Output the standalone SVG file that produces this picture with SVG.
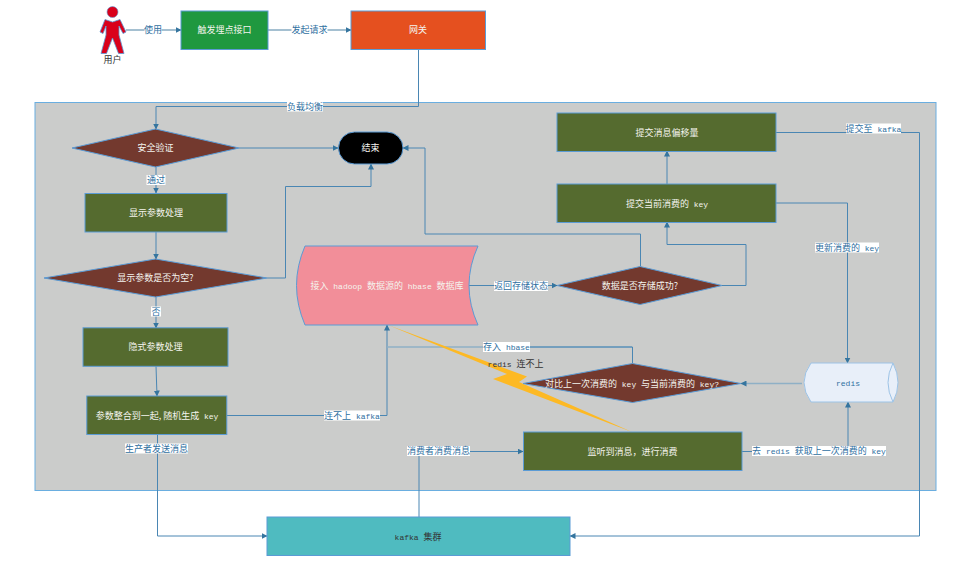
<svg xmlns="http://www.w3.org/2000/svg" width="964" height="568" viewBox="0 0 964 568">
<style>
text{font-family:"Noto Sans CJK SC","Liberation Sans",sans-serif;font-size:9px;text-anchor:middle}
.m{font-family:"Liberation Mono","Noto Sans CJK SC",monospace;font-size:8px}
.w{fill:#f4f4ee}
.d{fill:#333333}
.l{fill:#2f6f9f}
.e{fill:none;stroke:#4a86b3;stroke-width:1;marker-end:url(#a)}
.n{fill:none;stroke:#4a86b3;stroke-width:1}
.g{fill:none;stroke:#8fb0c6;stroke-width:1.6}
.bg{fill:#ffffff}
.s{stroke:#5b9bd5;stroke-width:1;stroke-miterlimit:8}
.olive{fill:#556b2f}
.brown{fill:#73392e}
</style>
<defs>
<marker id="a" markerUnits="userSpaceOnUse" markerWidth="6" markerHeight="6" refX="5.5" refY="3" orient="auto"><path d="M0,0L6,3L0,6Z" fill="#35759f"/></marker>
</defs>
<rect width="964" height="568" fill="#ffffff"/>
<g id="container"><rect x="35" y="102.500" width="901" height="388" fill="#cbcccb" stroke="#6aaee0" stroke-width="1"/></g>
<g id="connectors">
<path class="g" d="M126,30H146"/><path class="g" d="M161,30H181" style="marker-end:url(#a)"/>
<path class="g" d="M268,30H292"/><path class="g" d="M327,30H351" style="marker-end:url(#a)"/>
<path class="e" d="M418.500,49V106.500H156V129"/>
<path class="e" d="M239,148H338"/>
<path class="e" d="M156,167V193"/>
<path class="e" d="M156,232V259"/>
<path class="e" d="M267,278H285.500V186.500H371V164"/>
<path class="e" d="M156,297V328"/>
<path class="e" d="M156,366L157,396"/>
<path class="e" d="M227,415.500H387V325"/>
<path class="e" d="M157.500,434V536H267"/>
<path class="e" d="M419,517V451.500H523"/>
<path class="e" d="M742,451.500H848V402"/>
<path class="e" d="M802,383.500H741" style="stroke:#8fb0c6;stroke-width:1.600"/>
<path class="g" d="M387,347H632"/>
<path class="n" d="M632.500,363V347H500"/>
<path class="e" d="M468,285.500H557"/>
<path class="e" d="M640.500,266V234H425V148H403"/>
<path class="e" d="M722,285.500H746V244.500H667V222"/>
<path class="e" d="M667,184V151"/>
<path class="e" d="M776,203H847.500V363"/>
<path class="e" d="M776,132.500H919.500V536H570"/>
</g>
<g id="lightning"><path d="M388,325L527,376.500L519,382L632,432L493,379L507,374Z" fill="#fdb924"/></g>
<g id="connector-labels">
<rect class="bg" x="144.500" y="25" width="17" height="10"/><text class="l" x="153" y="33.200">使用</text>
<rect class="bg" x="291.500" y="25" width="36" height="10"/><text class="l" x="309.500" y="33.200">发起请求</text>
<rect class="bg" x="287" y="101.500" width="36" height="10"/><text class="l" x="305" y="109.700">负载均衡</text>
<rect class="bg" x="146.500" y="175" width="19" height="10"/><text class="l" x="156" y="183.200">通过</text>
<rect class="bg" x="151" y="306.500" width="10" height="10"/><text class="l" x="156" y="314.900">否</text>
<rect class="bg" x="324" y="410.500" width="56" height="10"/><text class="l" x="352" y="418.700">连不上<tspan class="m"> kafka</tspan></text>
<rect class="bg" x="125" y="443.500" width="63" height="10"/><text class="l" x="156.500" y="451.800">生产者发送消息</text>
<rect class="bg" x="407" y="446" width="63" height="10"/><text class="l" x="438.500" y="454.200">消费者消费消息</text>
<rect class="bg" x="752" y="446" width="134" height="10"/><text class="l" x="819" y="454.200">去<tspan class="m"> redis </tspan>获取上一次消费的<tspan class="m"> key</tspan></text>
<rect class="bg" x="483" y="342" width="47" height="10"/><text class="l" x="506.500" y="350.200">存入<tspan class="m"> hbase</tspan></text>
<rect class="bg" x="494" y="281" width="54" height="10"/><text class="l" x="521" y="289.200">返回存储状态</text>
<rect class="bg" x="815" y="242.500" width="64" height="10"/><text class="l" x="847" y="250.800">更新消费的<tspan class="m"> key</tspan></text>
<rect class="bg" x="846" y="123.500" width="55" height="10"/><text class="l" x="873.500" y="131.800">提交至<tspan class="m"> kafka</tspan></text>
</g>
<g id="user">
<circle cx="112.500" cy="12" r="5.500" fill="#d9001b" stroke="#5b9bd5" stroke-width="0.600"/>
<path d="M105,19.500L112.500,22L120,19.500L126,32L123,33.500L119,26V35L124,53.500H118.500L112.500,38L106.500,53.500H101L106,35V26L103,33.500L100,32Z" fill="#d9001b" stroke="#5b9bd5" stroke-width="0.800"/>
<text class="d" x="112.500" y="63">用户</text>
</g>
<g id="trigger"><rect class="s" x="181" y="11" width="87" height="38.500" fill="#1f983f"/><text class="w" x="224.500" y="33.200">触发埋点接口</text></g>
<g id="gateway"><rect class="s" x="351" y="11" width="134.500" height="38.500" fill="#e5501f"/><text class="w" x="418" y="33.200">网关</text></g>
<g id="auth"><path class="s brown" d="M72,148L155.500,129L239,148L155.500,167Z"/><text class="w" x="155.500" y="151.200">安全验证</text></g>
<g id="end"><rect class="s" x="338.500" y="132" width="64.500" height="32" rx="16" fill="#000000"/><text class="w" x="370.500" y="151.200">结束</text></g>
<g id="explicit"><rect class="s olive" x="85" y="193.500" width="142" height="38.500"/><text class="w" x="156" y="216">显示参数处理</text></g>
<g id="empty-check"><path class="s brown" d="M44,278L155.500,259L267,278L155.500,297Z"/><text class="w" x="155.500" y="281.200">显示参数是否为空?</text></g>
<g id="implicit"><rect class="s olive" x="83" y="327.800" width="145" height="38.500"/><text class="w" x="155.500" y="350">隐式参数处理</text></g>
<g id="merge"><rect class="s olive" x="86.800" y="396" width="140" height="38.500"/><text class="w" x="157" y="418.700">参数整合到一起, 随机生成<tspan class="m"> key</tspan></text></g>
<g id="hbase"><path class="s" d="M305,246H478Q460,285.500 478,325H305Q288,285.500 305,246Z" fill="#f28e99"/><text class="w" x="387" y="288.700">接入<tspan class="m"> hadoop </tspan>数据源的<tspan class="m"> hbase </tspan>数据库</text></g>
<g id="store-check"><path class="s brown" d="M557,285.500L640,266.500L722,285.500L640,304.500Z"/><text class="w" x="640" y="288.700">数据是否存储成功?</text></g>
<g id="offset"><rect class="s olive" x="557" y="113" width="219" height="38.500"/><text class="w" x="667" y="135.500">提交消息偏移量</text></g>
<g id="commit-key"><rect class="s olive" x="557" y="184" width="219" height="38.500"/><text class="w" x="667" y="206.500">提交当前消费的<tspan class="m"> key</tspan></text></g>
<g id="compare"><path class="s brown" d="M523,383.500L632.500,363.500L741,383.500L632.500,402.500Z"/><text class="w" x="632" y="386.500">对比上一次消费的<tspan class="m"> key </tspan>与当前消费的<tspan class="m"> key?</tspan></text></g>
<g id="redis"><path d="M811,363H893Q903,382.500 893,402H811Q797,382.500 811,363Z" fill="#e8eff9" stroke="#9dc3e6" stroke-width="1"/><path d="M893,363Q883,382.500 893,402" fill="none" stroke="#9dc3e6" stroke-width="1"/><text class="l m" x="848" y="386">redis</text></g>
<g id="consume"><rect class="s olive" x="523.500" y="432" width="218.500" height="38.500"/><text class="w" x="632.500" y="454.500">监听到消息，进行消费</text></g>
<g id="kafka"><rect class="s" x="267" y="517" width="303" height="38.500" fill="#4fbbc0"/><text class="d" x="418" y="539.500"><tspan class="m">kafka </tspan>集群</text></g>
<text class="d" x="515.500" y="366.800"><tspan class="m">redis </tspan>连不上</text>
</svg>
